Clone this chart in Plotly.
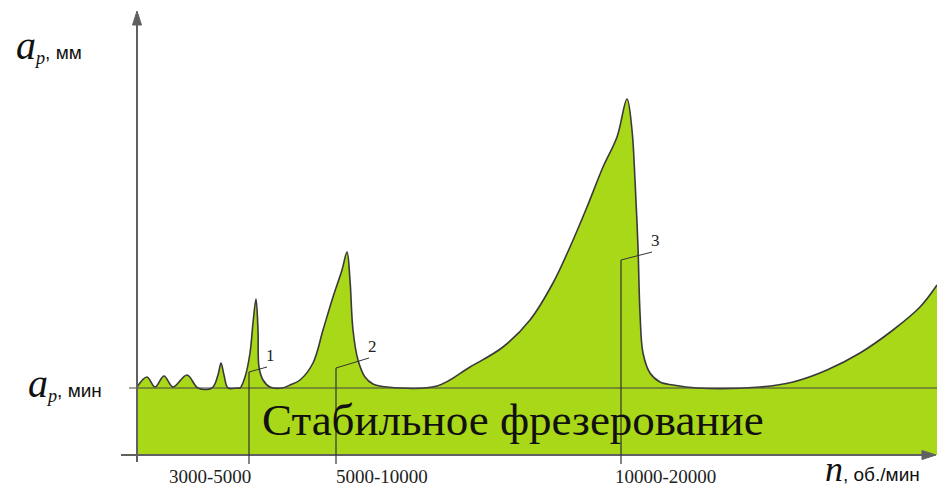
import plotly.graph_objects as go

# Stability lobe boundary (schematic units: horizontal position, depth of cut)
lobe_x = [0, 10, 18, 27, 36, 50, 61, 75, 81, 84, 87, 91, 100,
          103, 108, 113, 116, 119, 121, 122, 126, 133, 145,
          153, 163, 176, 186, 196, 205, 210, 213, 216, 221, 228, 236, 250,
          300, 333, 366, 393, 416, 433, 450, 466, 480, 490, 495, 498, 501, 503, 506, 513, 523, 536, 560,
          623, 656, 690, 723, 756, 783, 800]
lobe_y = [68, 78, 68, 79, 68, 80, 67, 67, 80, 92, 80, 67, 67,
          67, 78, 102, 132, 156, 125, 88, 75, 68, 67,
          70, 75, 92, 125, 158, 185, 203, 175, 125, 95, 78, 71, 68,
          69, 88, 108, 135, 172, 208, 248, 288, 318, 356, 325, 275, 208, 142, 102, 82, 73, 70, 67,
          68, 73, 85, 102, 125, 148, 170]

a_min = 67  # minimum depth of cut (stable limit)

marker_x = [112, 199, 484]
marker_top = [83, 87, 195]
marker_names = ["1", "2", "3"]
range_labels = ["3000-5000", "5000-10000", "10000-20000"]
range_label_x = [73, 245, 528]

GREEN = "#a8d818"
DARK = "#3a3a3a"
AX = "#606060"

fig = go.Figure()
fig.add_trace(go.Scatter(
    x=lobe_x, y=lobe_y, mode="lines", fill="tozeroy", fillcolor=GREEN,
    line=dict(color=DARK, width=1.6, shape="spline", smoothing=1.0),
    hoverinfo="skip", showlegend=False))

shapes = []
# baseline a_p,min
shapes.append(dict(type="line", xref="x", yref="y", x0=-8, x1=800, y0=a_min, y1=a_min,
                   line=dict(color="#444", width=1.2)))
# axes
shapes.append(dict(type="line", xref="x", yref="y", x0=0, x1=0, y0=-7, y1=432,
                   line=dict(color=AX, width=2)))
shapes.append(dict(type="line", xref="x", yref="y", x0=-16, x1=788, y0=0, y1=0,
                   line=dict(color=AX, width=2)))
# arrowheads
shapes.append(dict(type="path", xref="x", yref="y", path="M -4.5,430 L 0,444 L 4.5,430 Z",
                   fillcolor=AX, line=dict(color=AX, width=1)))
shapes.append(dict(type="path", xref="x", yref="y", path="M 785,-4.5 L 799,0 L 785,4.5 Z",
                   fillcolor=AX, line=dict(color=AX, width=1)))

annotations = []
leader_len = [18, 33, 31]
leader_rise = [5, 10, 8]
for mx, mt, name, ll, lr in zip(marker_x, marker_top, marker_names, leader_len, leader_rise):
    shapes.append(dict(type="line", xref="x", yref="y", x0=mx, x1=mx, y0=-9, y1=mt,
                       line=dict(color="#333", width=1.2)))
    shapes.append(dict(type="line", xref="x", yref="y", x0=mx, x1=mx + ll, y0=mt, y1=mt + lr,
                       line=dict(color="#333", width=1)))
    annotations.append(dict(x=mx + ll + 3, y=mt + lr + 12, xref="x", yref="y", text=name,
                            showarrow=False,
                            font=dict(family="Liberation Serif", size=17, color="#222")))

for lx, lt in zip(range_label_x, range_labels):
    annotations.append(dict(x=lx, y=-21, xref="x", yref="y", text=lt, showarrow=False,
                            font=dict(family="Liberation Serif", size=19, color="#222")))

annotations.append(dict(x=376, y=35, xref="x", yref="y", text="Стабильное фрезерование",
                        showarrow=False,
                        font=dict(family="Liberation Serif", size=45, color="#111")))

annotations.append(dict(x=-88, y=410, xref="x", yref="y",
                        text="<span style='font-family:Liberation Serif;font-size:40px'><i>a</i></span>"
                             "<span style='font-family:Liberation Serif;font-size:26px'><sub><i>p</i></sub></span>"
                             "<span style='font-size:19px'>, мм</span>",
                        showarrow=False, font=dict(family="Liberation Sans", size=19, color="#111")))
annotations.append(dict(x=-72, y=72, xref="x", yref="y",
                        text="<span style='font-family:Liberation Serif;font-size:40px'><i>a</i></span>"
                             "<span style='font-family:Liberation Serif;font-size:26px'><sub><i>p</i></sub></span>"
                             "<span style='font-size:19px'>, мин</span>",
                        showarrow=False, font=dict(family="Liberation Sans", size=19, color="#111")))
annotations.append(dict(x=735, y=-14, xref="x", yref="y",
                        text="<span style='font-family:Liberation Serif;font-size:36px'><i>n</i></span>"
                             "<span style='font-size:19px'>, об./мин</span>",
                        showarrow=False, font=dict(family="Liberation Sans", size=19, color="#111")))

fig.update_layout(
    width=937, height=488, margin=dict(l=0, r=0, t=0, b=0),
    paper_bgcolor="white", plot_bgcolor="white",
    xaxis=dict(range=[-137, 800], visible=False, fixedrange=True),
    yaxis=dict(range=[-33, 455], visible=False, fixedrange=True),
    shapes=shapes, annotations=annotations, showlegend=False)

# remove the page's default 8px body margin so the figure fills the window exactly
fig.write_html("out.html", config={"displayModeBar": False},
               post_script="document.body.style.margin='0';")
